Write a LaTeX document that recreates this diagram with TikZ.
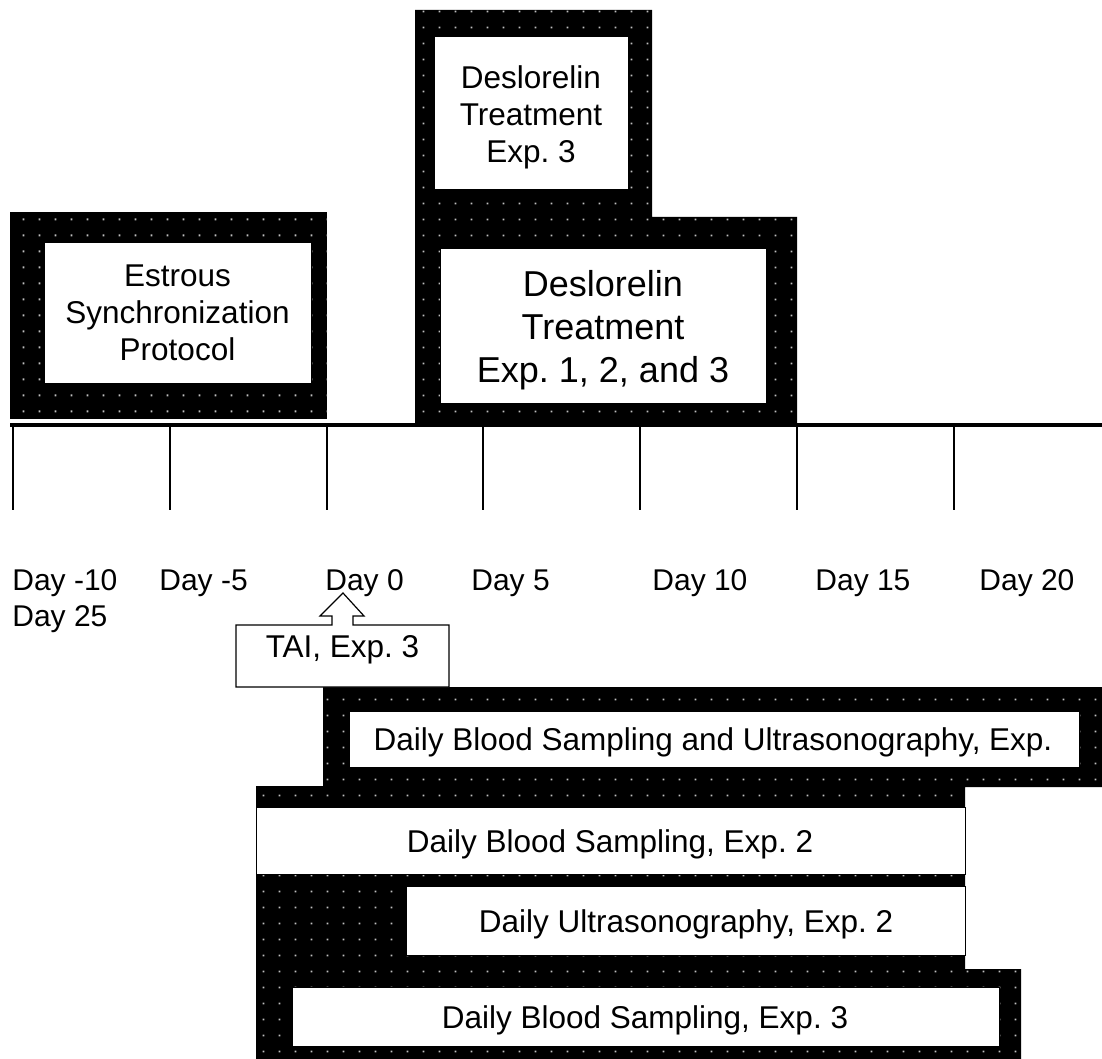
\documentclass[tikz,border=0pt]{standalone}
\usepackage{fontspec}
\setmainfont{Liberation Sans}
\usetikzlibrary{patterns}
\pgfdeclarepatternformonly{sdots}{\pgfqpoint{0pt}{0pt}}{\pgfqpoint{8pt}{8pt}}{\pgfqpoint{8pt}{8pt}}{%
  \pgfpathrectangle{\pgfqpoint{3.5pt}{3.5pt}}{\pgfqpoint{1pt}{1pt}}\pgfusepath{fill}}
\definecolor{dotgray}{gray}{0.75}
\frenchspacing
\begin{document}
\begin{tikzpicture}[x=0.5pt,y=-0.5pt,
  darea/.style={fill=black, postaction={pattern=sdots, pattern color=dotgray}},
  whitebox/.style={draw=black, line width=0.5pt, fill=white, inner sep=0pt},
  boxtext/.style={font=\fontsize{15.75}{18.5}\selectfont\frenchspacing, align=center, inner sep=0pt},
  bigtext/.style={font=\fontsize{18}{21.5}\selectfont\frenchspacing, align=center, inner sep=0pt},
  daytext/.style={font=\fontsize{15}{18}\selectfont, inner sep=0pt, anchor=base west},
  axis/.style={line width=2pt},
  tick/.style={line width=1.4pt},
  callout/.style={draw=black, line width=0.6pt, fill=white}
]
\useasboundingbox (0,0) rectangle (1102,1059);

% black dotted backgrounds
\path[darea] (10,212) rectangle (327,419);
\path[darea] (415,10) -- (652,10) -- (652,217) -- (797,217) -- (797,425) -- (415,425) -- cycle;
\path[darea] (323,687) -- (1102,687) -- (1102,787) -- (965,787) -- (965,969) -- (1021,969)
  -- (1021,1059) -- (256,1059) -- (256,786) -- (323,786) -- cycle;

% white boxes
\node[whitebox, minimum width=133.5pt, minimum height=70pt] (estbox) at (177.5,313) {};
\node[boxtext] (est) at (177.5,313) {Estrous\\Synchronization\\Protocol};

\node[whitebox, minimum width=97pt, minimum height=76.5pt] (d3box) at (531,113.5) {};
\node[boxtext] (d3) at (531,117) {Deslorelin\\Treatment\\Exp. 3};

\node[whitebox, minimum width=163pt, minimum height=77pt] (d123box) at (603,326) {};
\node[bigtext] (d123) at (603,330) {Deslorelin\\Treatment\\Exp. 1, 2, and 3};

\node[whitebox, minimum width=365pt, minimum height=28pt] (b1box) at (714,739) {};
\node[boxtext, anchor=base] (b1) at (713,750) {Daily Blood Sampling and Ultrasonography, Exp.};

\node[whitebox, minimum width=354.5pt, minimum height=33.5pt] (b2box) at (610.5,840.5) {};
\node[boxtext, anchor=base] (b2) at (610,852) {Daily Blood Sampling, Exp. 2};

\node[whitebox, minimum width=279.5pt, minimum height=34.5pt] (b3box) at (685.5,920.5) {};
\node[boxtext, anchor=base] (b3) at (686,932) {Daily Ultrasonography, Exp. 2};

\node[whitebox, minimum width=353.5pt, minimum height=29.5pt] (b4box) at (645.5,1016.5) {};
\node[boxtext, anchor=base] (b4) at (645,1028) {Daily Blood Sampling, Exp. 3};

% timeline
\coordinate (axL) at (10,425);
\coordinate (axR) at (1102,425);
\draw[axis] (axL) -- (axR);
\foreach \i/\x in {0/13,1/170,2/327,3/483,4/640,5/797,6/954}{
  \coordinate (t\i) at (\x,425);
  \coordinate (b\i) at (\x,510);
  \draw[tick] (t\i) -- (b\i);
}

% day labels
\node[daytext] (dm10) at (12,590) {Day -10};
\node[daytext] (dm5) at (159,590) {Day -5};
\node[daytext] (d0) at (325,590) {Day 0};
\node[daytext] (d5) at (471,590) {Day 5};
\node[daytext] (d10) at (652,590) {Day 10};
\node[daytext] (d15) at (815,590) {Day 15};
\node[daytext] (d20) at (979,590) {Day 20};
\node[daytext] (d25) at (12,626) {Day 25};

% TAI callout
\path[callout] (236,625) -- (332,625) -- (332,616) -- (320,616) -- (343,593) -- (364,616)
  -- (353,616) -- (353,625) -- (449,625) -- (449,687) -- (236,687) -- cycle;
\node[boxtext, anchor=base] (tai) at (342.5,657) {TAI, Exp. 3};
\end{tikzpicture}
\end{document}
